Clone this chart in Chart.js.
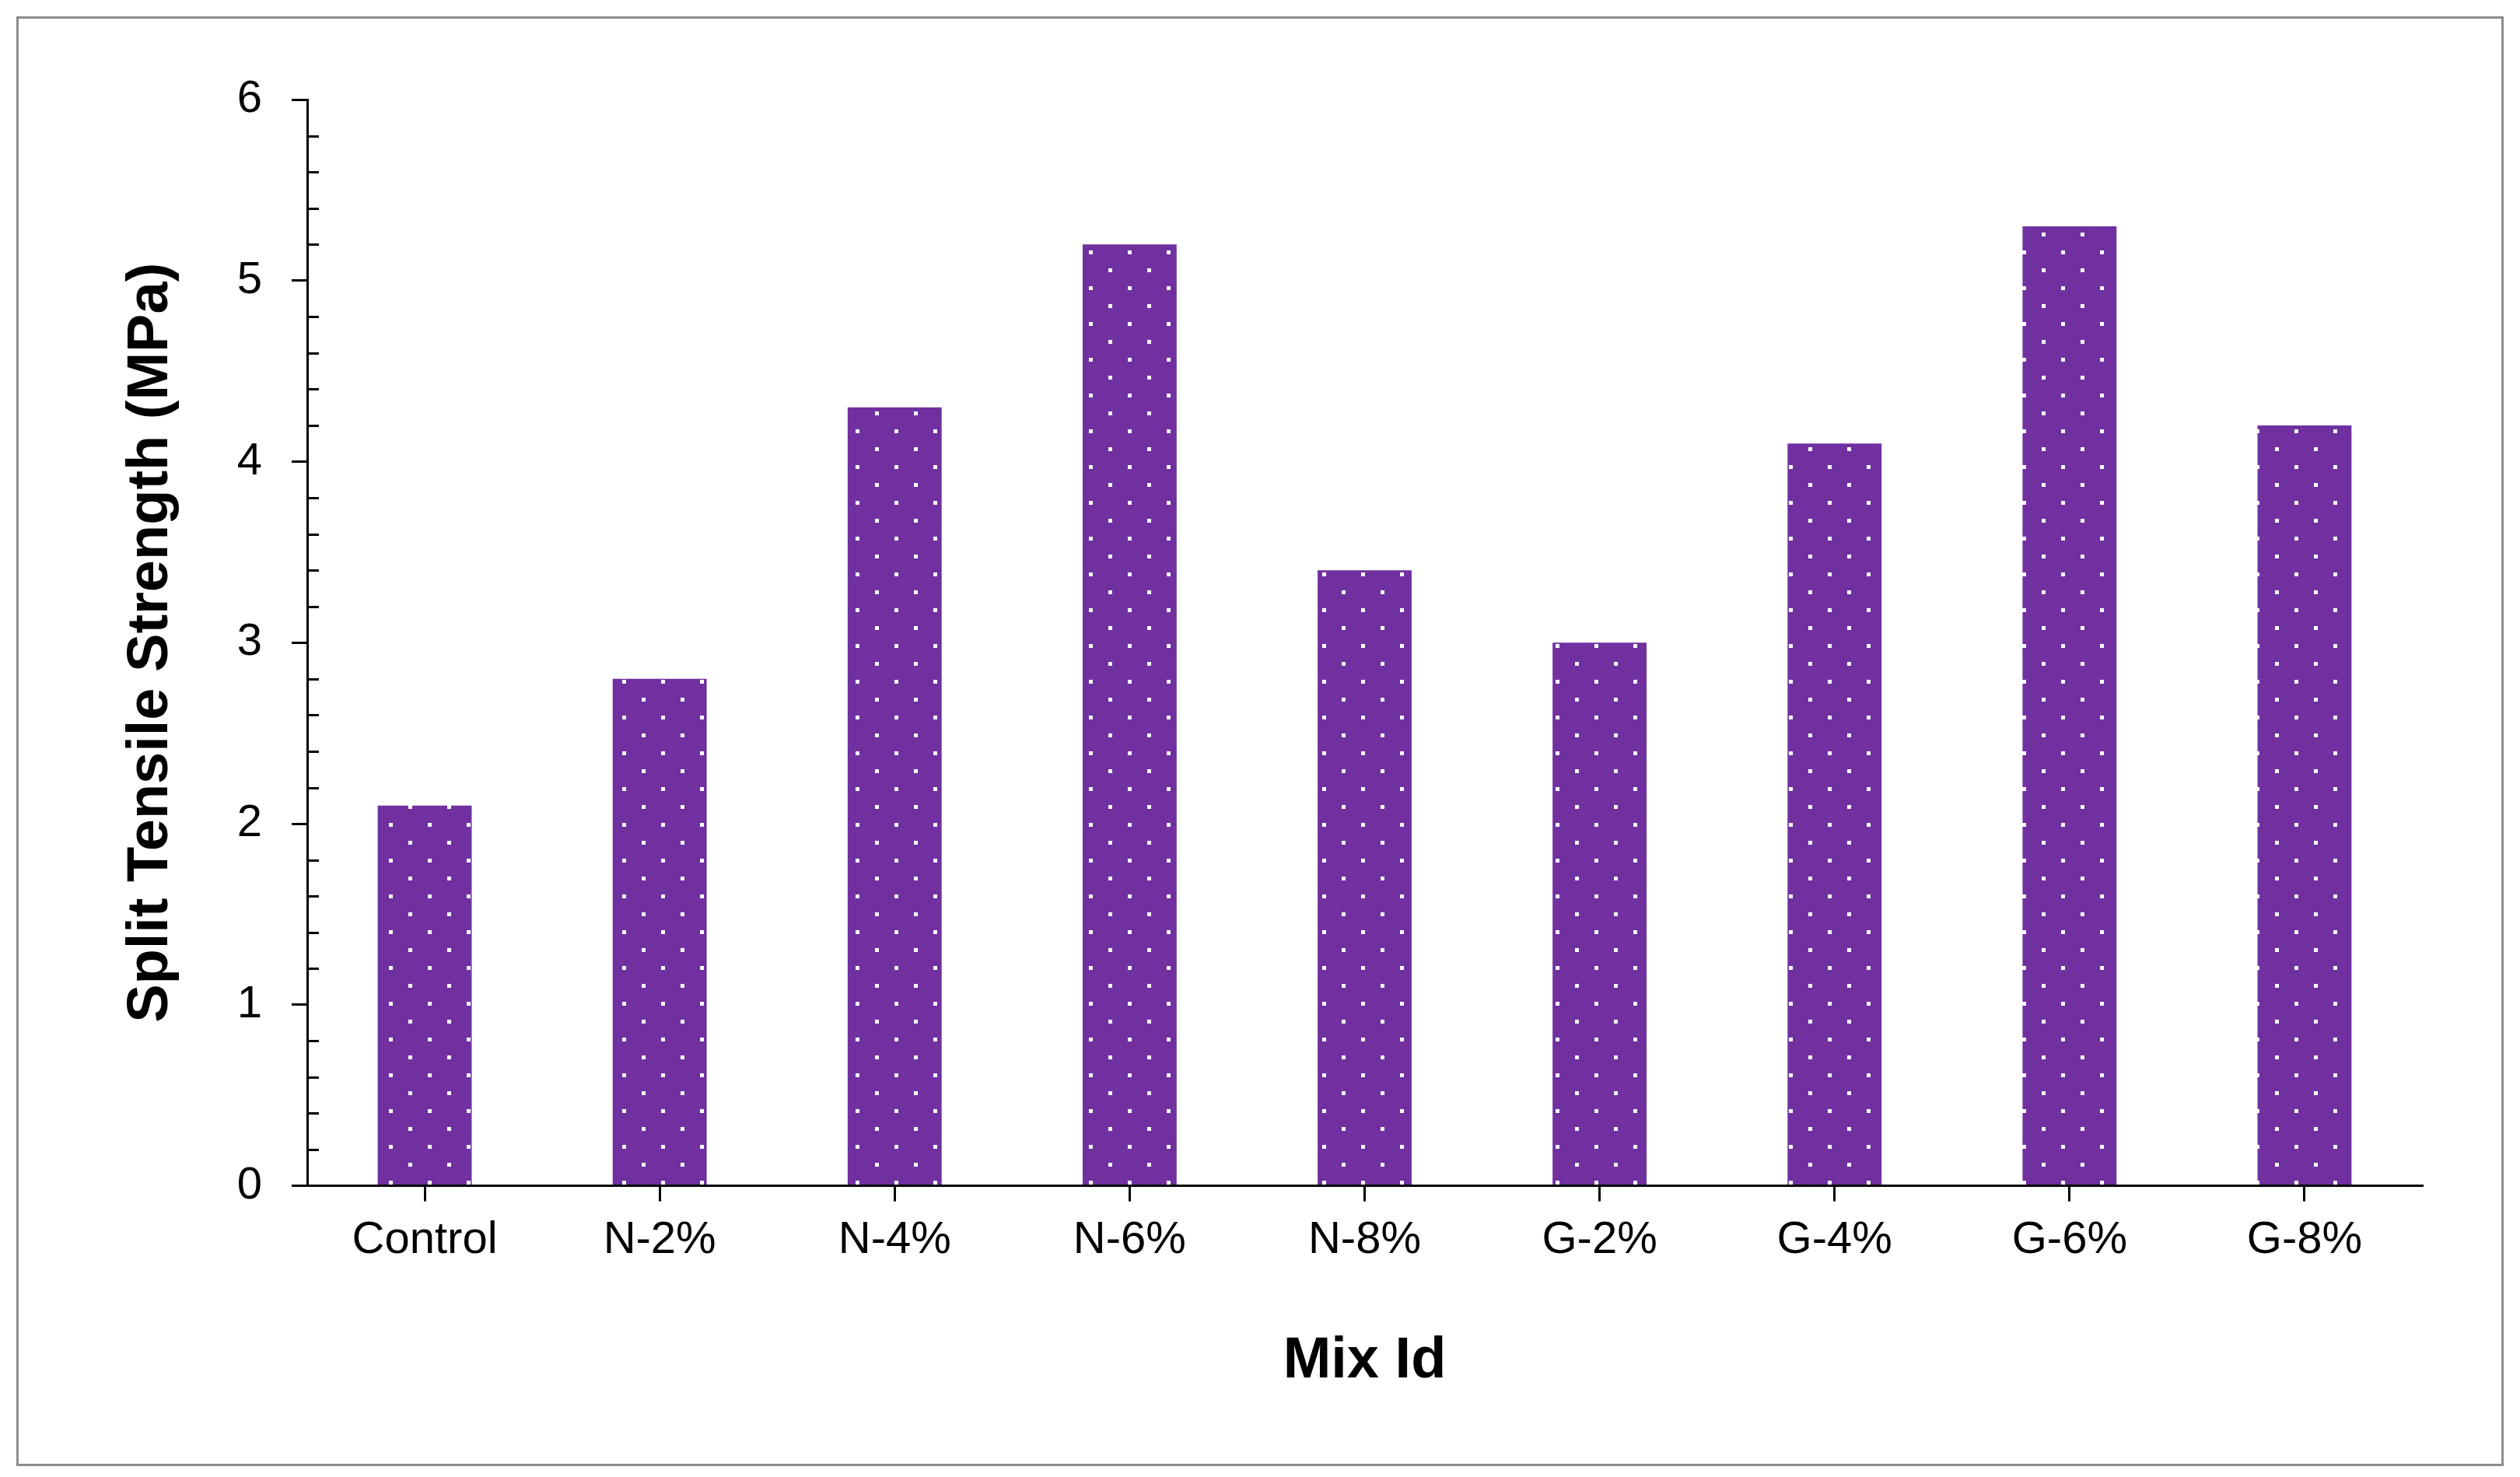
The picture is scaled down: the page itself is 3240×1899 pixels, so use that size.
<!DOCTYPE html>
<html><head><meta charset="utf-8">
<script src="https://cdn.jsdelivr.net/npm/chart.js@4"></script>
<style>
html,body{margin:0;padding:0;background:#fff;}
#wrap{position:relative;width:3240px;height:1899px;}
#frame{position:absolute;left:21px;top:21px;width:3192px;height:1858px;border:3px solid #8c8c8c;}
canvas{position:absolute;left:0;top:0;}
</style></head>
<body>
<div id="wrap"><div id="frame"></div><canvas id="c" width="3240" height="1899"></canvas></div>
<script>
var mixIds = ['Control', 'N-2%', 'N-4%', 'N-6%', 'N-8%', 'G-2%', 'G-4%', 'G-6%', 'G-8%'];
var strength = [2.1, 2.8, 4.3, 5.2, 3.4, 3.0, 4.1, 5.3, 4.2];
var yTicks = [0, 1, 2, 3, 4, 5, 6];

// dotted purple fill like the original
var pc = document.createElement('canvas');
pc.width = 50; pc.height = 46;
var px = pc.getContext('2d');
px.fillStyle = '#7030A0';
px.fillRect(0, 0, 50, 46);
px.fillStyle = '#ffffff';
px.fillRect(0, 0, 5, 5);
px.fillRect(25, 23, 5, 5);
var ctx = document.getElementById('c').getContext('2d');
var dots = ctx.createPattern(pc, 'repeat');

var minorTicks = {
  id: 'minorTicks',
  afterDraw: function (chart) {
    var y = chart.scales.y, c = chart.ctx;
    c.save();
    c.strokeStyle = '#000';
    c.lineWidth = 3;
    for (var v = 0.2; v < 6; v += 0.2) {
      if (Math.abs(v - Math.round(v)) < 0.01) continue;
      var yy = Math.round(y.getPixelForValue(v)) + 0.5;
      c.beginPath();
      c.moveTo(y.right, yy);
      c.lineTo(y.right + 15, yy);
      c.stroke();
    }
    c.restore();
  }
};

new Chart(ctx, {
  type: 'bar',
  data: {
    labels: mixIds,
    datasets: [{
      data: strength,
      backgroundColor: dots,
      categoryPercentage: 1,
      barPercentage: 0.4
    }]
  },
  options: {
    responsive: false,
    animation: false,
    layout: { padding: { left: 150, top: 128, right: 126, bottom: 100 } },
    plugins: { legend: { display: false }, tooltip: { enabled: false } },
    scales: {
      x: {
        grid: { offset: false, drawOnChartArea: false, tickLength: 20, color: '#000', lineWidth: 3 },
        border: { color: '#000', width: 3 },
        ticks: { color: '#000', padding: 16, font: { family: 'Liberation Sans', size: 58 } },
        title: { display: true, text: 'Mix Id', color: '#000', padding: { top: 60 },
                 font: { family: 'Liberation Sans', size: 74, weight: 'bold' } }
      },
      y: {
        min: 0, max: 6,
        afterBuildTicks: function (s) { s.ticks = yTicks.map(function (v) { return { value: v }; }); },
        afterFit: function (s) { s.width = 245; },
        grid: { drawOnChartArea: false, tickLength: 20, color: '#000', lineWidth: 3 },
        border: { color: '#000', width: 3 },
        ticks: { color: '#000', padding: 38, font: { family: 'Liberation Sans', size: 58 } },
        title: { display: true, text: 'Split Tensile Strength (MPa)', color: '#000', padding: 0,
                 font: { family: 'Liberation Sans', size: 74, weight: 'bold' } }
      }
    }
  },
  plugins: [minorTicks]
});
</script>
</body></html>
